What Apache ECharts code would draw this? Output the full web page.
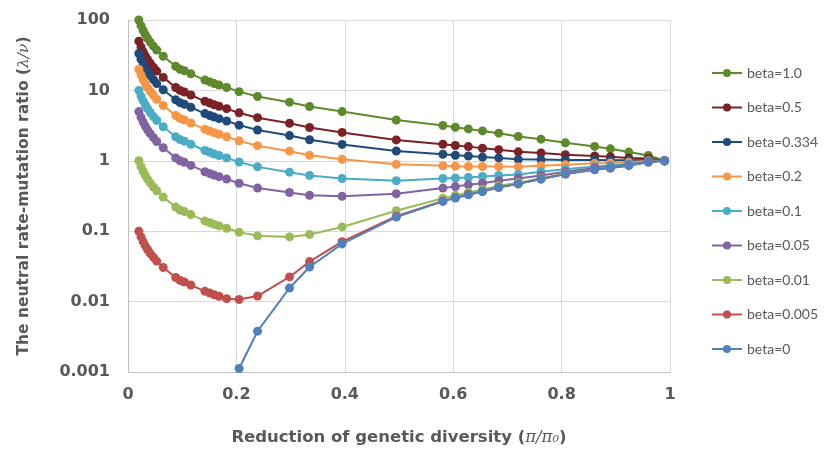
<!DOCTYPE html>
<html>
<head>
<meta charset="utf-8">
<script src="https://cdn.jsdelivr.net/npm/echarts@6/dist/echarts.min.js"></script>
<style>
  html, body { margin: 0; padding: 0; background: #fff; }
  #chart { width: 825px; height: 451px; }
</style>
</head>
<body>
<div id="chart"></div>
<script>
// x 位置 (π/π0)
var xs = [0.02, 0.024, 0.028, 0.032, 0.036, 0.041, 0.047, 0.053, 0.065, 0.088, 0.096, 0.104, 0.116,
  0.142, 0.151, 0.159, 0.168, 0.182, 0.205, 0.239, 0.298, 0.335, 0.395, 0.495, 0.581, 0.604,
  0.628, 0.654, 0.684, 0.72, 0.762, 0.807, 0.861, 0.89, 0.924, 0.96, 0.99];

var names = ["beta=1.0", "beta=0.5", "beta=0.334", "beta=0.2", "beta=0.1",
  "beta=0.05", "beta=0.01", "beta=0.005", "beta=0"];
var colors = ["#5e8a2c", "#7a2226", "#1f4a7a", "#f79646", "#4bacc6",
  "#8064a2", "#9bbb59", "#c0504d", "#4f81bd"];

var beta1 = [100, 83, 71, 62, 55, 48.5, 42.5, 37.5, 30.5, 22, 20, 19, 17.2, 14, 13.2, 12.5, 11.9, 11,
  9.6, 8.2, 6.8, 5.9, 5.0, 3.8, 3.17, 3.0, 2.84, 2.66, 2.47, 2.21, 2.03, 1.8, 1.6, 1.48, 1.33, 1.19, 1.0];
var beta05 = [50, 41.5, 35.5, 31, 27.5, 24.3, 21.3, 18.8, 15.3, 11, 10, 9.5, 8.6, 7, 6.6, 6.25, 5.95, 5.5,
  4.8, 4.1, 3.41, 2.97, 2.53, 1.98, 1.72, 1.65, 1.59, 1.51, 1.44, 1.34, 1.29, 1.22, 1.17, 1.14, 1.1, 1.08, 1.0];
var beta0334 = [33.4, 27.7, 23.7, 20.7, 18.4, 16.2, 14.2, 12.5, 10.2, 7.35, 6.7, 6.35, 5.75, 4.68, 4.4, 4.18, 3.97, 3.67,
  3.21, 2.74, 2.28, 1.99, 1.71, 1.38, 1.24, 1.2, 1.17, 1.13, 1.1, 1.05, 1.04, 1.03, 1.03, 1.02, 1.02, 1.03, 1.0];
var beta02 = [20, 16.6, 14.2, 12.4, 11, 9.7, 8.5, 7.5, 6.1, 4.4, 4.0, 3.8, 3.44, 2.8, 2.64, 2.5, 2.38, 2.2,
  1.92, 1.64, 1.37, 1.2, 1.05, 0.89, 0.85, 0.84, 0.83, 0.83, 0.83, 0.82, 0.85, 0.88, 0.92, 0.93, 0.95, 1.0, 1.0];
var beta01 = [10, 8.3, 7.1, 6.2, 5.5, 4.85, 4.25, 3.75, 3.05, 2.2, 2.0, 1.9, 1.72, 1.4, 1.32, 1.25, 1.19, 1.1,
  0.96, 0.82, 0.69, 0.62, 0.56, 0.52, 0.56, 0.57, 0.58, 0.6, 0.62, 0.64, 0.7, 0.76, 0.83, 0.86, 0.91, 0.98, 1.0];
var beta005 = [5, 4.15, 3.55, 3.1, 2.75, 2.43, 2.13, 1.88, 1.53, 1.1, 1.0, 0.95, 0.86, 0.7, 0.66, 0.625, 0.595, 0.55,
  0.48, 0.41, 0.355, 0.324, 0.313, 0.341, 0.41, 0.43, 0.456, 0.48, 0.52, 0.56, 0.62, 0.7, 0.79, 0.82, 0.88, 0.97, 1.0];
var beta001 = [1.0, 0.83, 0.71, 0.62, 0.55, 0.485, 0.425, 0.375, 0.305, 0.22, 0.2, 0.19, 0.172, 0.14, 0.132, 0.125, 0.119, 0.11,
  0.097, 0.086, 0.083, 0.09, 0.115, 0.195, 0.294, 0.323, 0.355, 0.39, 0.44, 0.49, 0.565, 0.66, 0.75, 0.8, 0.86, 0.96, 1.0];
var beta0005 = [0.1, 0.083, 0.071, 0.062, 0.055, 0.0485, 0.0425, 0.0375, 0.0305, 0.022, 0.02, 0.019, 0.0172, 0.014, 0.0132, 0.0125, 0.0119, 0.011,
  0.0107, 0.012, 0.0224, 0.037, 0.071, 0.163, 0.268, 0.299, 0.333, 0.37, 0.42, 0.47, 0.55, 0.65, 0.75, 0.79, 0.86, 0.96, 1.0];
var beta0 = [null, null, null, null, null, null, null, null, null, null, null, null, null, null, null, null, null, null,
  0.00112, 0.0038, 0.0156, 0.031, 0.066, 0.159, 0.265, 0.296, 0.33, 0.367, 0.418, 0.47, 0.55, 0.647, 0.745, 0.79, 0.86, 0.96, 1.0];

var allValues = [beta1, beta05, beta0334, beta02, beta01, beta005, beta001, beta0005, beta0];

// 去掉空值，配成 [x, y]
function pairs(vals) {
  var out = [];
  for (var i = 0; i < xs.length; i++) {
    if (vals[i] != null) out.push([xs[i], vals[i]]);
  }
  return out;
}

var labelFont = { fontFamily: "DejaVu Sans", fontWeight: "bold", fontSize: 16, color: "#595959" };
function titleRich(size) {
  return {
    t: { fontFamily: "DejaVu Sans", fontWeight: "bold", fontSize: size, color: "#595959" },
    i: { fontFamily: "DejaVu Serif", fontStyle: "italic", fontSize: size, color: "#595959" }
  };
}

var series = allValues.map(function (vals, i) {
  return {
    name: names[i],
    type: "line",
    data: pairs(vals),
    symbol: "circle",
    symbolSize: 9,
    color: colors[i],
    lineStyle: { width: 2 },
    emphasis: { disabled: true },
    animation: false
  };
});

var chart = echarts.init(document.getElementById("chart"));
chart.setOption({
  backgroundColor: "#fff",
  animation: false,
  grid: { left: 128, right: 155, top: 20, bottom: 79 },
  legend: {
    orient: "vertical",
    left: 706,
    top: 61,
    itemWidth: 30,
    itemHeight: 10,
    itemGap: 20.5,
    data: names,
    textStyle: { fontFamily: "Lato", fontSize: 14, color: "#595959" }
  },
  xAxis: {
    type: "value",
    min: 0,
    max: 1,
    interval: 0.2,
    name: "{t|Reduction of genetic diversity (}{i|π/π₀}{t|)}",
    nameLocation: "middle",
    nameGap: 57,
    nameTextStyle: { rich: titleRich(16.5) },
    axisLine: { show: true, lineStyle: { color: "#bfbfbf" } },
    axisTick: { show: false },
    axisLabel: Object.assign({ margin: 15 }, labelFont),
    splitLine: { show: true, lineStyle: { color: "#d9d9d9" } }
  },
  yAxis: {
    type: "log",
    logBase: 10,
    min: 0.001,
    max: 100,
    name: "{t|The neutral rate-mutation ratio (}{i|λ/ν}{t|)}",
    nameLocation: "middle",
    nameGap: 96,
    nameTextStyle: { rich: titleRich(15.5) },
    axisLine: { show: true, lineStyle: { color: "#bfbfbf" } },
    axisTick: { show: false },
    axisLabel: Object.assign({
      margin: 18,
      formatter: function (v) { return String(Number(v.toPrecision(1))); }
    }, labelFont),
    splitLine: { show: true, lineStyle: { color: "#d9d9d9" } }
  },
  series: series
});
</script>
</body>
</html>
